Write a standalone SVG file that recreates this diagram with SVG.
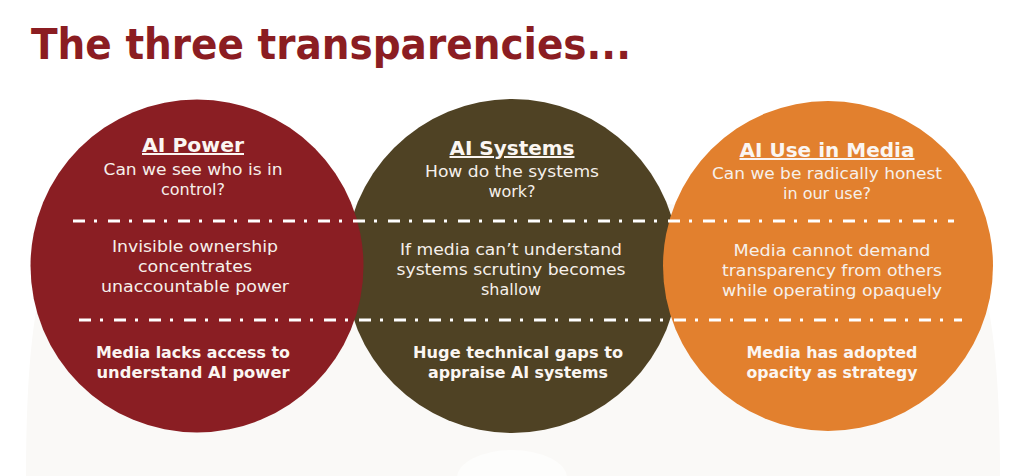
<svg xmlns="http://www.w3.org/2000/svg" width="1024" height="476" viewBox="0 0 1024 476">
<style>
.title{font-family:"DejaVu Sans","Liberation Sans",sans-serif;font-weight:bold;font-size:42px;fill:#8B1D22}
.h{font-family:"DejaVu Sans","Liberation Sans",sans-serif;font-weight:bold;font-size:20px;fill:#FBF6F2;text-anchor:middle;text-decoration:underline}
.t{font-family:"DejaVu Sans","Liberation Sans",sans-serif;font-size:16px;fill:#F6F0EB;text-anchor:middle}
.b{font-family:"DejaVu Sans","Liberation Sans",sans-serif;font-weight:bold;font-size:16px;fill:#FBF6F2;text-anchor:middle}
.dd{stroke:#FFFFFF;stroke-width:3;stroke-dasharray:12 9 3 11;fill:none}
</style>
<rect width="1024" height="476" fill="#FFFFFF"/>
<path d="M26 476 C26 330 40 240 80 215 Q512 190 944 215 C984 240 1000 330 1000 476 Z" fill="#FAF9F7"/>
<ellipse cx="512" cy="478" rx="55" ry="28" fill="#FDFDFC"/>
<text class="title" x="31" y="59" textLength="600" lengthAdjust="spacingAndGlyphs">The three transparencies...</text>

<g id="node-ai-systems">
<circle cx="512" cy="266" r="167" fill="#4F4224"/>
<text class="h" x="512" y="155" textLength="125" lengthAdjust="spacingAndGlyphs">AI Systems</text>
<text class="t" x="512" y="177" textLength="174" lengthAdjust="spacingAndGlyphs">How do the systems</text>
<text class="t" x="512" y="197">work?</text>
<text class="t" x="511" y="255" textLength="222" lengthAdjust="spacingAndGlyphs">If media can’t understand</text>
<text class="t" x="511" y="275" textLength="229" lengthAdjust="spacingAndGlyphs">systems scrutiny becomes</text>
<text class="t" x="511" y="295">shallow</text>
<text class="b" x="518" y="358" textLength="210" lengthAdjust="spacingAndGlyphs">Huge technical gaps to</text>
<text class="b" x="518" y="378" textLength="180" lengthAdjust="spacingAndGlyphs">appraise AI systems</text>
</g>

<g id="node-ai-power">
<circle cx="197" cy="266" r="166.5" fill="#8A1E23"/>
<text class="h" x="193" y="152" textLength="102" lengthAdjust="spacingAndGlyphs">AI Power</text>
<text class="t" x="193" y="175" textLength="179" lengthAdjust="spacingAndGlyphs">Can we see who is in</text>
<text class="t" x="193" y="195">control?</text>
<text class="t" x="195" y="252" textLength="166" lengthAdjust="spacingAndGlyphs">Invisible ownership</text>
<text class="t" x="195" y="272" textLength="114" lengthAdjust="spacingAndGlyphs">concentrates</text>
<text class="t" x="195" y="292" textLength="188" lengthAdjust="spacingAndGlyphs">unaccountable power</text>
<text class="b" x="193" y="358" textLength="194" lengthAdjust="spacingAndGlyphs">Media lacks access to</text>
<text class="b" x="193" y="378" textLength="193" lengthAdjust="spacingAndGlyphs">understand AI power</text>
</g>

<g id="node-ai-use-in-media">
<circle cx="828" cy="266" r="165" fill="#E2802E"/>
<text class="h" x="827" y="157" textLength="175" lengthAdjust="spacingAndGlyphs">AI Use in Media</text>
<text class="t" x="827" y="179" textLength="230" lengthAdjust="spacingAndGlyphs">Can we be radically honest</text>
<text class="t" x="827" y="199">in our use?</text>
<text class="t" x="832" y="256" textLength="197" lengthAdjust="spacingAndGlyphs">Media cannot demand</text>
<text class="t" x="832" y="276" textLength="220" lengthAdjust="spacingAndGlyphs">transparency from others</text>
<text class="t" x="832" y="296" textLength="220" lengthAdjust="spacingAndGlyphs">while operating opaquely</text>
<text class="b" x="832" y="358" textLength="171" lengthAdjust="spacingAndGlyphs">Media has adopted</text>
<text class="b" x="832" y="378" textLength="171" lengthAdjust="spacingAndGlyphs">opacity as strategy</text>
</g>

<g id="connectors">
<line class="dd" x1="73" y1="221" x2="954" y2="221"/>
<line class="dd" x1="79" y1="320" x2="962" y2="320"/>
</g>
</svg>
